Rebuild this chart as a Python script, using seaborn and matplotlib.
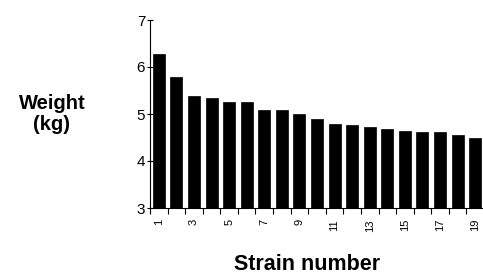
import matplotlib
matplotlib.use('Agg')
import matplotlib.pyplot as plt
import seaborn as sns
import pandas as pd
import numpy as np

# valeurs
strains = [str(i) for i in range(1, 20)]
weights = [6.28, 5.79, 5.39, 5.34, 5.26, 5.26, 5.09, 5.09, 5.01, 4.89,
           4.79, 4.76, 4.72, 4.68, 4.64, 4.61, 4.61, 4.55, 4.50]
tick_labels = [s if int(s) % 2 == 1 else '' for s in strains]

sns.set_style('white')
plt.rcParams['font.family'] = ['Liberation Sans', 'DejaVu Sans']
plt.rcParams['text.color'] = 'black'
plt.rcParams['xtick.color'] = 'black'
plt.rcParams['ytick.color'] = 'black'

df = pd.DataFrame({'strain': strains, 'weight': weights})

fig = plt.figure(figsize=(4.83, 2.77), dpi=100)
ax = fig.add_axes([150 / 483, 1 - 208 / 277, 334 / 483, 188 / 277])
sns.barplot(data=df, x='strain', y='weight', color='black', width=0.68,
            saturation=1, ax=ax, edgecolor='black', linewidth=0.5)

ax.set_ylim(3, 7)
ax.set_xlim(-0.5, len(strains) - 0.5)
ax.set_yticks([3, 4, 5, 6, 7])
ax.tick_params(axis='y', direction='inout', length=5, width=0.8, labelsize=11, pad=1, left=True)

# ticks majeurs sans trait (étiquettes), ticks mineurs aux frontières
ax.set_xticks(np.arange(len(strains)))
ax.set_xticklabels(tick_labels, rotation=90, fontsize=8, va='top')
ax.tick_params(axis='x', which='major', length=0, pad=8)
ax.set_xticks(np.arange(-0.5, len(strains), 1), minor=True)
ax.tick_params(axis='x', which='minor', direction='out', length=4, width=0.8, bottom=True)

ax.set_xlabel('')
ax.set_ylabel('')
for side in ['top', 'right']:
    ax.spines[side].set_visible(False)
for side in ['left', 'bottom']:
    ax.spines[side].set_color('black')
    ax.spines[side].set_linewidth(0.8)

fig.text(52 / 483, 1 - 114 / 277, 'Weight\n(kg)', ha='center', va='center',
         fontsize=14.5, fontweight='bold', linespacing=1.1)
fig.text(307 / 483, 1 - 265 / 277, 'Strain number', ha='center', va='center',
         fontsize=15.5, fontweight='bold')

fig.savefig('out.png', dpi=100)
